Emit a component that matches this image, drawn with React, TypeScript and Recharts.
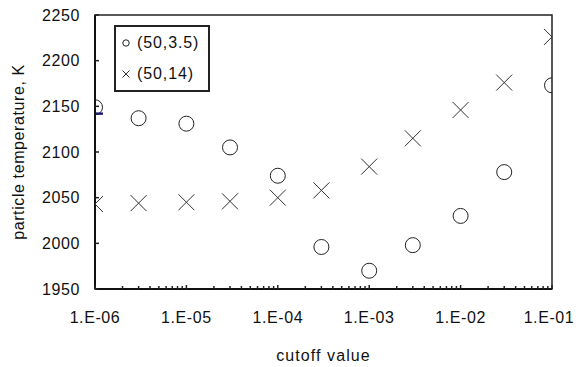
import React from 'react';
import {
  ScatterChart,
  Scatter,
  XAxis,
  YAxis,
  Legend,
  ReferenceArea,
  ReferenceLine,
  Label,
} from 'recharts';

const FONT = '"Liberation Sans", Arial, sans-serif';
const CHART_W = 576;
const CHART_H = 367;

// cutoff values on the log axis
const cutoffs = [1e-6, 3e-6, 1e-5, 3e-5, 1e-4, 3e-4, 1e-3, 3e-3, 1e-2, 3e-2, 1e-1];
// particle temperature (K) for the two cases
const tempCase35 = [2149, 2137, 2131, 2105, 2074, 1996, 1970, 1998, 2030, 2078, 2173];
const tempCase14 = [2043, 2044, 2045, 2046, 2050, 2058, 2084, 2115, 2146, 2176, 2226];
const seriesNames = ['(50,3.5)', '(50,14)'];

const xMajors = [1e-6, 1e-5, 1e-4, 1e-3, 1e-2, 1e-1];
const xMajorLabels = ['1.E-06', '1.E-05', '1.E-04', '1.E-03', '1.E-02', '1.E-01'];
const minorSteps = [2, 3, 4, 5, 6, 7, 8, 9];
const yTicks = [1950, 2000, 2050, 2100, 2150, 2200, 2250];

// short blue bar drawn at the left edge near the first point
const markerBarY = 2142;
const markerBarX = [1e-6, 1.22e-6];

const data35 = cutoffs.map((x, i) => ({ x, y: tempCase35[i] }));
const data14 = cutoffs.map((x, i) => ({ x, y: tempCase14[i] }));

const xTicks = [
  ...xMajors,
  ...xMajors.slice(0, -1).flatMap((d) => minorSteps.map((m) => d * m)),
].sort((a, b) => a - b);

const majorIndex = (v: number) =>
  xMajors.findIndex((m) => Math.abs(Math.log10(v) - Math.log10(m)) < 1e-6);

const textStyle = { fontFamily: FONT, fontSize: 16, letterSpacing: 0.6, fill: '#111' };

const XTick = (props: any) => {
  const { x, y, payload } = props;
  const idx = majorIndex(payload.value);
  // keep the last label inside the canvas
  const tx = Math.min(x, CHART_W - 27);
  return (
    <g>
      <line x1={x} x2={x} y1={y} y2={y - (idx >= 0 ? 4 : 3)} stroke="#222" strokeWidth={1.5} />
      {idx >= 0 && (
        <text x={tx} y={y + 28} textAnchor="middle" dominantBaseline="central" style={textStyle}>
          {xMajorLabels[idx]}
        </text>
      )}
    </g>
  );
};

const YTick = (props: any) => {
  const { x, y, payload } = props;
  return (
    <g>
      <line x1={x} x2={x + 4} y1={y} y2={y} stroke="#222" strokeWidth={1.5} />
      <text x={x - 15} y={y} textAnchor="end" dominantBaseline="central" style={textStyle}>
        {payload.value}
      </text>
    </g>
  );
};

const CircleMark = (props: any) => (
  <circle cx={props.cx} cy={props.cy} r={7.5} fill="none" stroke="#222" strokeWidth={1} />
);

const CrossMark = (props: any) => {
  const { cx, cy } = props;
  const h = 8;
  return (
    <g stroke="#333" strokeWidth={1}>
      <line x1={cx - h} y1={cy - h} x2={cx + h} y2={cy + h} />
      <line x1={cx - h} y1={cy + h} x2={cx + h} y2={cy - h} />
    </g>
  );
};

const LegendBox = () => (
  <div style={{ paddingTop: 0.5 }}>
    {seriesNames.map((name, i) => (
      <div key={name} style={{ height: 31, display: 'flex', alignItems: 'center', position: 'relative' }}>
        <svg width={14} height={14} style={{ position: 'absolute', left: 3, top: 8.5 }}>
          {i === 0 ? (
            <circle cx={7} cy={7} r={3.2} fill="none" stroke="#222" strokeWidth={1} />
          ) : (
            <g stroke="#333" strokeWidth={1}>
              <line x1={3.5} y1={3.5} x2={10.5} y2={10.5} />
              <line x1={3.5} y1={10.5} x2={10.5} y2={3.5} />
            </g>
          )}
        </svg>
        <span
          style={{
            position: 'absolute',
            left: 21,
            fontFamily: FONT,
            fontSize: 16,
            letterSpacing: 0.9,
            color: '#111',
          }}
        >
          {name}
        </span>
      </div>
    ))}
  </div>
);

export default function App() {
  return (
    <div style={{ position: 'absolute', left: 0, top: 0, width: CHART_W, height: CHART_H, background: '#fff' }}>
      <ScatterChart width={CHART_W} height={CHART_H} margin={{ top: 15, right: 24, bottom: 38, left: 15 }}>
        <XAxis
          dataKey="x"
          type="number"
          scale="log"
          domain={[1e-6, 0.1]}
          allowDataOverflow
          ticks={xTicks}
          interval={0}
          height={40}
          tickSize={0}
          tickMargin={0}
          tickLine={false}
          axisLine={{ stroke: '#111', strokeWidth: 2 }}
          tick={<XTick />}
        >
          <Label
            content={(p: any) => {
              const vb = p.viewBox;
              return (
                <text
                  x={vb.x + vb.width / 2}
                  y={vb.y + 66}
                  textAnchor="middle"
                  dominantBaseline="central"
                  style={{ ...textStyle, letterSpacing: 1.1 }}
                >
                  cutoff value
                </text>
              );
            }}
          />
        </XAxis>
        <YAxis
          dataKey="y"
          type="number"
          domain={[1950, 2250]}
          allowDataOverflow
          ticks={yTicks}
          interval={0}
          width={80}
          tickSize={0}
          tickMargin={0}
          tickLine={false}
          axisLine={{ stroke: '#111', strokeWidth: 2 }}
          tick={<YTick />}
        >
          <Label
            content={(p: any) => {
              const vb = p.viewBox;
              const cx = vb.x + 3;
              const cy = vb.y + vb.height / 2;
              return (
                <text
                  x={cx}
                  y={cy}
                  transform={`rotate(-90 ${cx} ${cy})`}
                  textAnchor="middle"
                  dominantBaseline="central"
                  style={{ ...textStyle, letterSpacing: 0.6 }}
                >
                  particle temperature, K
                </text>
              );
            }}
          />
        </YAxis>
        <ReferenceArea
          x1={1e-6}
          x2={0.1}
          y1={1950}
          y2={2250}
          fill="none"
          stroke="#222"
          strokeWidth={1.5}
          ifOverflow="visible"
        />
        <ReferenceLine
          segment={[
            { x: markerBarX[0], y: markerBarY },
            { x: markerBarX[1], y: markerBarY },
          ]}
          stroke="#1a1a8a"
          strokeWidth={2.5}
          ifOverflow="visible"
        />
        <Scatter name={seriesNames[0]} data={data35} shape={<CircleMark />} isAnimationActive={false} />
        <Scatter name={seriesNames[1]} data={data14} shape={<CrossMark />} isAnimationActive={false} />
        <Legend
          layout="horizontal"
          verticalAlign="middle"
          align="center"
          content={<LegendBox />}
          wrapperStyle={{
            left: 114,
            top: 25,
            width: 96,
            height: 67,
            border: '2px solid #222',
            boxSizing: 'border-box',
            background: '#fff',
          }}
        />
      </ScatterChart>
    </div>
  );
}
